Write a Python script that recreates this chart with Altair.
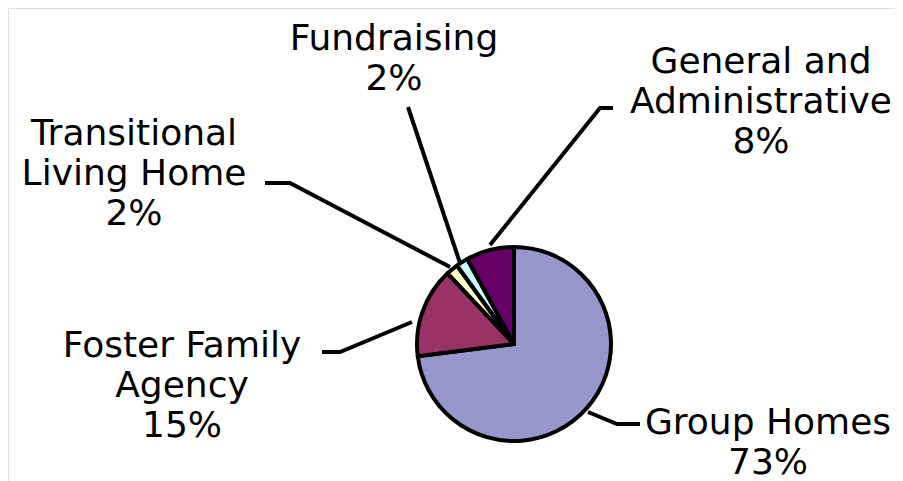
import altair as alt
import pandas as pd

# ---- data ----
categories = ["Group Homes", "Foster Family Agency", "Transitional Living Home",
              "Fundraising", "General and Administrative"]
percent = [73, 15, 2, 2, 8]
label_text = ["Group Homes\n73%", "Foster Family\nAgency\n15%",
              "Transitional\nLiving Home\n2%", "Fundraising\n2%",
              "General and\nAdministrative\n8%"]

# ---- styles ----
colors = ["#9797cc", "#993366", "#ffffcc", "#ccffff", "#660066"]

# ---- layout (page pixel coordinates) ----
W, H = 887, 473
pie_cx, pie_cy, pie_r = 514, 344, 97
label_x = [768, 182, 134, 394, 761]
label_y = [434, 357, 145, 50, 73]
leader_x = [[588, 617, 640], [322, 340, 412], [265, 290, 450], [408, 461], [613, 600, 490]]
leader_y = [[412, 424, 424], [352, 352, 322], [183, 183, 267], [107, 266], [108, 108, 245]]

pie_df = pd.DataFrame({"category": categories, "percent": percent,
                       "order": list(range(len(categories)))})
lab_df = pd.DataFrame({"category": categories, "label": label_text,
                       "x": label_x, "y": label_y})
rows = []
for cat, xs_, ys_ in zip(categories, leader_x, leader_y):
    for i, (xx, yy) in enumerate(zip(xs_, ys_)):
        rows.append({"category": cat, "x": xx, "y": yy, "i": i})
lead_df = pd.DataFrame(rows)

xs = alt.Scale(domain=[8, 8 + W], range=[0, W])
ys = alt.Scale(domain=[8, 8 + H], range=[0, H])

pie = alt.Chart(pie_df).mark_arc(
    outerRadius=pie_r, stroke="black", strokeWidth=4, strokeJoin="round"
).encode(
    theta=alt.Theta("percent:Q", stack=True),
    order=alt.Order("order:Q"),
    color=alt.Color("category:N", scale=alt.Scale(domain=categories, range=colors), legend=None),
    x=alt.value(pie_cx - 8),
    y=alt.value(pie_cy - 8),
)

leaders = alt.Chart(lead_df).mark_line(
    color="black", strokeWidth=4, strokeCap="butt", strokeJoin="miter"
).encode(
    x=alt.X("x:Q", scale=xs, axis=None),
    y=alt.Y("y:Q", scale=ys, axis=None),
    detail="category:N",
    order="i:Q",
)

labels = alt.Chart(lab_df).mark_text(
    font="DejaVu Sans", fontSize=36, lineBreak="\n", lineHeight=40,
    align="center", baseline="alphabetic", color="black"
).encode(
    x=alt.X("x:Q", scale=xs, axis=None),
    y=alt.Y("y:Q", scale=ys, axis=None),
    text="label:N",
)

chart = alt.layer(leaders, pie, labels).properties(
    width=W, height=H, padding=0,
    autosize=alt.AutoSizeParams(type="none"),
).configure_view(stroke=None).configure(background="white")

chart.save("out.html", embed_options={"renderer": "svg", "actions": False})
